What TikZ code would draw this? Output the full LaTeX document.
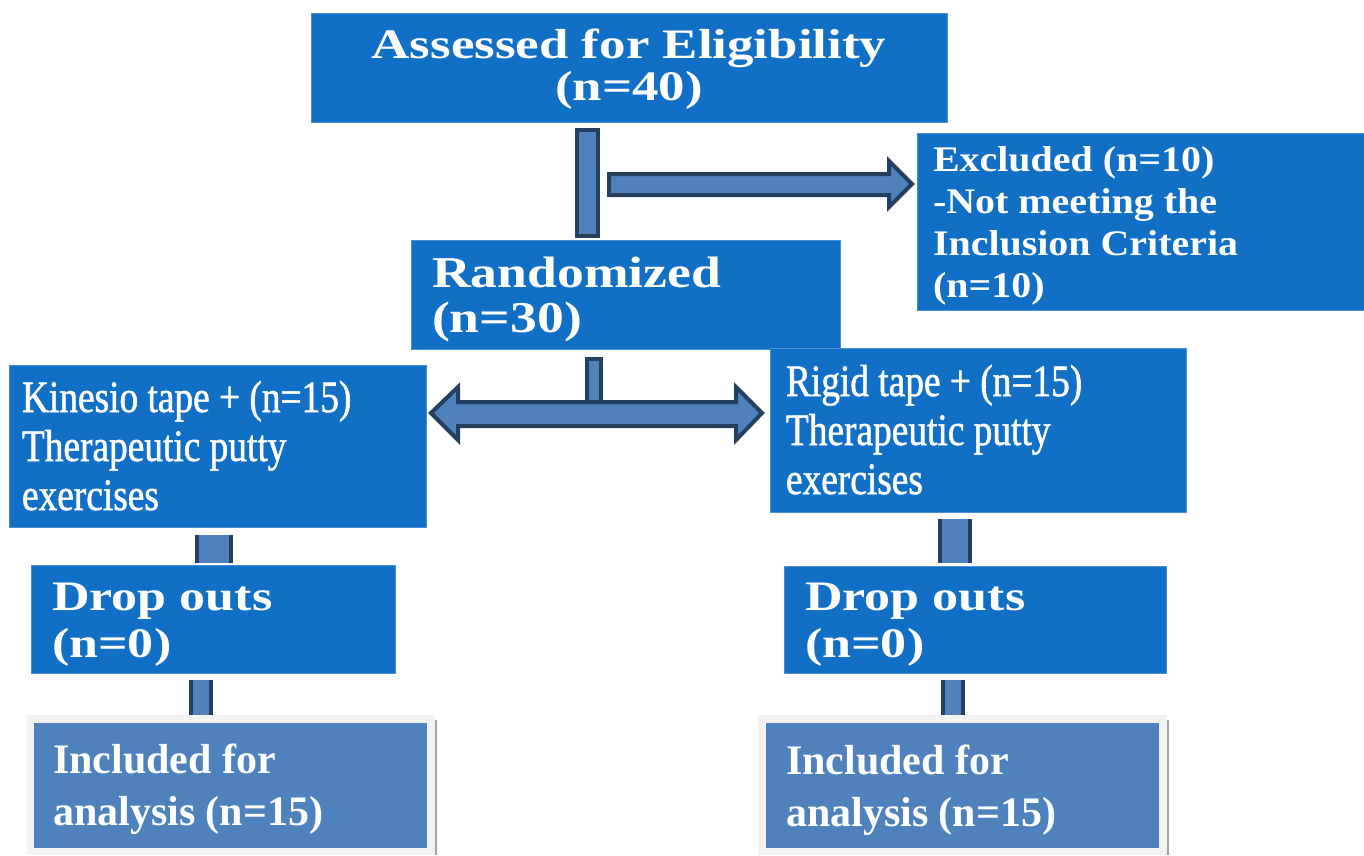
\documentclass[tikz,border=0pt]{standalone}
\usepackage{fontspec}
\setmainfont{Liberation Serif}
\newfontfamily\titlefont[FakeStretch=1.26]{Liberation Serif Bold}
\newfontfamily\exclfont[FakeStretch=1.11]{Liberation Serif Bold}
\newfontfamily\randfont[FakeStretch=1.22]{Liberation Serif Bold}
\newfontfamily\dropfont[FakeStretch=1.24]{Liberation Serif Bold}
\newfontfamily\armfont[FakeStretch=0.83,FakeBold=1.2]{Liberation Serif}
\newfontfamily\inclfont{Liberation Serif Bold}
\definecolor{boxblue}{HTML}{1170C6}
\definecolor{boxedge}{HTML}{4A8FD6}
\definecolor{arrfill}{HTML}{4F81BD}
\definecolor{arrline}{HTML}{243F60}
\definecolor{frame}{HTML}{F2F2F2}
\definecolor{frameedge}{HTML}{A0A4AA}
\tikzset{
  box/.style={anchor=north west, inner sep=0pt, outer sep=0pt, fill=boxblue, draw=boxedge, line width=1pt},
  inclbox/.style={anchor=north west, inner sep=0pt, outer sep=0pt, fill=arrfill},
  framebox/.style={anchor=north west, inner sep=0pt, outer sep=0pt, fill=frame},
  blockarrow/.style={fill=arrfill, draw=arrline, line width=4pt, line join=miter},
  stubfill/.style={fill=arrfill},
  stubside/.style={draw=arrline, line width=4pt},
  txt/.style={text=white, inner sep=0pt, outer sep=0pt, anchor=base west, align=left}
}
\begin{document}
\begin{tikzpicture}[x=1pt,y=-1pt]
\useasboundingbox (0,0) rectangle (1364,855);
% boxes
\node[box, minimum width=636pt, minimum height=109pt] (assess) at (311,13) {};
\node[box, minimum width=447pt, minimum height=177pt] (excl) at (917,133) {};
\node[box, minimum width=429pt, minimum height=109pt] (rand) at (411,240) {};
\node[box, minimum width=417pt, minimum height=162pt] (kin) at (9,365) {};
\node[box, minimum width=416pt, minimum height=164pt] (rig) at (770,348) {};
\node[box, minimum width=364pt, minimum height=108pt] (dropL) at (31,565) {};
\node[box, minimum width=382pt, minimum height=107pt] (dropR) at (784,566) {};
\node[framebox, minimum width=408pt, minimum height=140pt] (frameL) at (27,715) {};
\node[inclbox, minimum width=393pt, minimum height=125pt] (inclL) at (34,723) {};
\node[framebox, minimum width=409pt, minimum height=140pt] (frameR) at (758,715) {};
\node[inclbox, minimum width=393pt, minimum height=125pt] (inclR) at (766,723) {};
\draw[frameedge, line width=2pt] (frameL.north east) ++(1,5) -- (frameL.south east -| 436,0) ;
\draw[frameedge, line width=2pt] (frameR.north east) ++(1,5) -- (frameR.south east -| 1168,0);
% texts (anchor = baseline of the last line)
\node[txt, font=\titlefont\fontsize{42}{42}\selectfont, align=center, anchor=base] (t1) at (629,100) {Assessed for Eligibility\\(n=40)};
\node[txt, font=\exclfont\fontsize{36}{41.7}\selectfont] (t2) at (933,297) {Excluded (n=10)\\-Not meeting the\\Inclusion Criteria\\(n=10)};
\node[txt, font=\randfont\fontsize{44}{45}\selectfont] (t3) at (432,332) {Randomized\\(n=30)};
\node[txt, font=\armfont\fontsize{45}{49}\selectfont] (t4) at (22,510) {Kinesio tape + (n=15)\\Therapeutic putty\\exercises};
\node[txt, font=\armfont\fontsize{45}{49}\selectfont] (t5) at (786,494) {Rigid tape + (n=15)\\Therapeutic putty\\exercises};
\node[txt, font=\dropfont\fontsize{42}{47}\selectfont] (t6) at (52,657) {Drop outs\\(n=0)};
\node[txt, font=\dropfont\fontsize{42}{47}\selectfont] (t7) at (805,657) {Drop outs\\(n=0)};
\node[txt, font=\inclfont\fontsize{42}{52}\selectfont] (t8) at (53,825) {Included for\\analysis (n=15)};
\node[txt, font=\inclfont\fontsize{42}{52}\selectfont] (t9) at (786,826) {Included for\\analysis (n=15)};
% vertical bar from assessed
\draw[blockarrow] (577,130) rectangle (598,236);
% right arrow to excluded
\draw[blockarrow] (609,174) -- (889,174) -- (889,161) -- (912,184) -- (889,207) -- (889,195) -- (609,195) -- cycle;
% stub from randomized
\draw[blockarrow] (587,359) rectangle (601,402);
% double arrow
\draw[blockarrow] (431,413) -- (458,387) -- (458,402) -- (736,402) -- (736,387) -- (762,413) -- (736,440) -- (736,426) -- (458,426) -- (458,440) -- cycle;
% lower stubs
\fill[stubfill] (195,535) rectangle (233,563);
\draw[stubside] (197,535) -- (197,563) (231,535) -- (231,563);
\fill[stubfill] (189,680) rectangle (213,715);
\draw[stubside] (191,680) -- (191,715) (211,680) -- (211,715);
\fill[stubfill] (938,519) rectangle (972,563);
\draw[stubside] (940,519) -- (940,563) (970,519) -- (970,563);
\fill[stubfill] (941,680) rectangle (965,715);
\draw[stubside] (943,680) -- (943,715) (963,680) -- (963,715);
\end{tikzpicture}
\end{document}
